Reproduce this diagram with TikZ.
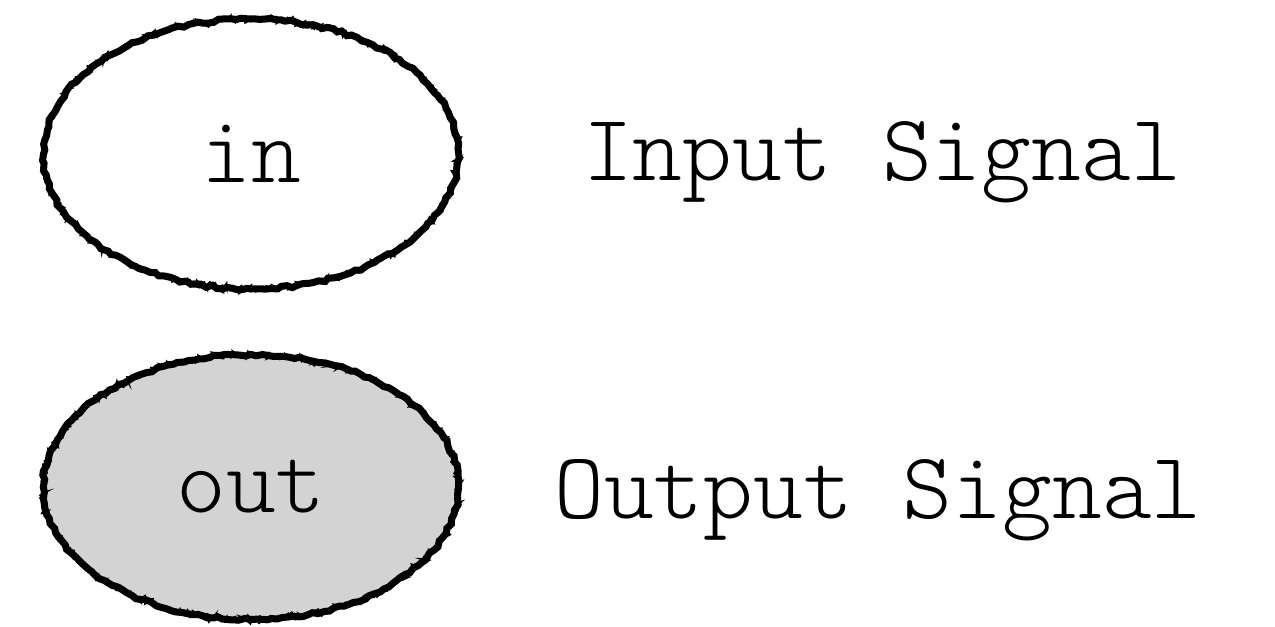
\documentclass[tikz,border=0pt]{standalone}
\usepackage{fontspec}
\setmonofont{Latin Modern Mono Light}
\usetikzlibrary{shapes.geometric,decorations.pathmorphing}

\definecolor{sigfill}{RGB}{211,211,211}

\tikzset{
  sig/.style={ellipse, minimum width=8.3cm, minimum height=5.4cm, inner sep=0pt,
    font=\ttfamily\fontsize{54}{64}\selectfont,
    draw, line width=4pt,
    decorate, decoration={random steps, segment length=3pt, amplitude=0.8pt},
    postaction={draw, line width=1.8pt, decorate,
      decoration={random steps, segment length=2pt, amplitude=1.8pt}},
    postaction={draw, line width=0.8pt, decorate,
      decoration={random steps, segment length=1.5pt, amplitude=2.5pt}}},
  siglabel/.style={anchor=base, font=\ttfamily\fontsize{54}{64}\selectfont}
}

\begin{document}
\begin{tikzpicture}[x=0.02cm, y=-0.02cm]
\pgfmathsetseed{7}
\useasboundingbox (0,0) rectangle (1275,626);

% signal kinds
\node [sig] (in) at (251,154) {in};
\node [sig, fill=sigfill, minimum height=5.3cm] (out) at (251,487) {out};

% what they stand for
\node [siglabel] (inlabel) at (882,180) {Input Signal};
\node [siglabel] (outlabel) at (878,518) {Output Signal};
\end{tikzpicture}
\end{document}
